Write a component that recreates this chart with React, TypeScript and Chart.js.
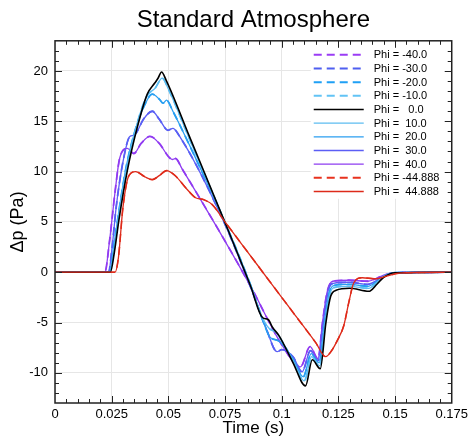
import React, { useEffect, useRef } from 'react';
import { Chart, registerables } from 'chart.js';

Chart.register(...registerables);

const TITLE = 'Standard Atmosphere';
const X_TITLE = 'Time (s)';
const Y_TITLE = 'Δp (Pa)';

const X_TICKS = [0, 0.025, 0.05, 0.075, 0.1, 0.125, 0.15, 0.175];
const X_TICK_LABELS = ['0', '0.025', '0.05', '0.075', '0.1', '0.125', '0.15', '0.175'];
const Y_TICKS = [-10, -5, 0, 5, 10, 15, 20];

const LABELS = [
  'Phi = -40.0',
  'Phi = -30.0',
  'Phi = -20.0',
  'Phi = -10.0',
  'Phi =   0.0',
  'Phi =  10.0',
  'Phi =  20.0',
  'Phi =  30.0',
  'Phi =  40.0',
  'Phi = -44.888',
  'Phi =  44.888',
];

// Phi = 0
const T_PHI0 = [0, 0.0244, 0.0262, 0.0282, 0.0319, 0.0363, 0.0407, 0.044, 0.0455, 0.047, 0.049, 0.0591, 0.0745, 0.0863, 0.0915, 0.094, 0.096, 0.0988, 0.105, 0.1105, 0.1135, 0.117, 0.1195, 0.1216, 0.124, 0.13, 0.1384, 0.142, 0.145, 0.15, 0.175];
const P_PHI0 = [0, 0, 2.0, 5.2, 10.1, 14.4, 17.7, 18.8, 19.3, 19.9, 19.1, 13.6, 5.2, -1.4, -4.5, -4.7, -5.5, -6.3, -9.0, -11.3, -8.7, -9.6, -5.0, -2.4, -1.8, -1.6, -1.9, -1.2, -0.5, -0.05, 0];

// Phi = ±10
const T_PHI10 = [0, 0.0242, 0.026, 0.028, 0.0315, 0.036, 0.0405, 0.0442, 0.0473, 0.05, 0.059, 0.0745, 0.0863, 0.092, 0.0945, 0.0975, 0.105, 0.11, 0.1132, 0.1168, 0.1192, 0.1212, 0.1235, 0.13, 0.1384, 0.142, 0.145, 0.15, 0.175];
const P_PHI10 = [0, 0, 2.2, 5.5, 10.3, 14.6, 17.5, 18.3, 19.3, 18.2, 13.4, 5.2, -1.3, -4.8, -5.6, -6.0, -8.8, -10.8, -8.4, -9.3, -5.0, -2.2, -1.5, -1.4, -1.6, -1.0, -0.4, -0.05, 0];

// Phi = ±20
const T_PHI20 = [0, 0.024, 0.0258, 0.028, 0.0315, 0.0355, 0.0395, 0.0429, 0.046, 0.0477, 0.0492, 0.052, 0.06, 0.0745, 0.0863, 0.092, 0.095, 0.0985, 0.105, 0.1095, 0.113, 0.1165, 0.119, 0.121, 0.1232, 0.13, 0.138, 0.142, 0.145, 0.15, 0.175];
const P_PHI20 = [0, 0, 2.4, 5.8, 10.6, 14.2, 16.6, 17.7, 17.2, 16.8, 17.1, 16.0, 12.3, 5.2, -1.3, -5.0, -6.5, -6.8, -8.6, -10.4, -8.1, -9.0, -4.8, -2.0, -1.3, -1.2, -1.4, -0.9, -0.4, -0.05, 0];

// Phi = ±30
const T_PHI30 = [0, 0.0236, 0.0252, 0.027, 0.03, 0.033, 0.0345, 0.036, 0.039, 0.0429, 0.046, 0.0498, 0.052, 0.0547, 0.0745, 0.0863, 0.093, 0.098, 0.1, 0.105, 0.109, 0.1127, 0.116, 0.1185, 0.1205, 0.1228, 0.13, 0.138, 0.142, 0.145, 0.15, 0.175];
const P_PHI30 = [0, 0, 2.5, 6.5, 11.0, 13.5, 13.6, 13.9, 15.2, 16.0, 15.2, 14.1, 14.3, 13.6, 5.0, -1.5, -5.5, -7.9, -7.7, -8.4, -9.9, -7.8, -8.8, -4.6, -1.8, -1.1, -1.0, -1.2, -0.8, -0.4, -0.05, 0];

// Phi = ±40
const T_PHI40 = [0, 0.022, 0.024, 0.0265, 0.0285, 0.0319, 0.0348, 0.038, 0.0419, 0.046, 0.05, 0.0517, 0.0532, 0.056, 0.087, 0.095, 0.1, 0.1083, 0.1125, 0.116, 0.118, 0.12, 0.1225, 0.13, 0.138, 0.142, 0.145, 0.15, 0.175];
const P_PHI40 = [0, 0, 3.0, 8.0, 11.3, 12.3, 11.8, 12.8, 13.5, 12.8, 11.5, 11.2, 11.3, 10.3, -1.7, -5.2, -7.2, -9.4, -7.4, -8.6, -5.0, -2.0, -0.9, -0.8, -0.9, -0.6, -0.3, -0.05, 0];

// Phi = ±44.888
const T_PHI44 = [0, 0.0265, 0.028, 0.03, 0.0326, 0.0356, 0.0395, 0.0429, 0.046, 0.0492, 0.053, 0.058, 0.062, 0.0657, 0.0694, 0.075, 0.085, 0.095, 0.105, 0.115, 0.1194, 0.122, 0.1245, 0.1274, 0.1296, 0.1318, 0.1355, 0.1414, 0.146, 0.1517, 0.175];
const P_PHI44 = [0, 0, 1.5, 6.5, 9.6, 10.0, 9.5, 9.2, 9.6, 10.1, 9.6, 8.3, 7.4, 7.2, 6.7, 5.0, 2.0, -1.0, -4.0, -7.0, -8.4, -7.8, -6.8, -5.3, -3.0, -1.05, -0.55, -0.65, -0.4, -0.1, 0];

const pts = (t: number[], p: number[]) => t.map((x, i) => ({ x, y: p[i] }));

const FONT = '"Liberation Sans", Arial, Helvetica, sans-serif';

const frameAndLegend = {
  id: 'frameAndLegend',
  afterDatasetsDraw(chart: any) {
    const { ctx, chartArea, scales } = chart;
    const { left, right, top, bottom } = chartArea;
    const xs = scales.x;
    const ys = scales.y;
    ctx.save();

    // legend box
    const lx = right - 141;
    ctx.fillStyle = '#ffffff';
    ctx.fillRect(lx, top + 1, right - lx - 1, 157);
    const ly0 = top + 14;
    const dy = 13.67;
    ctx.font = `11px ${FONT}`;
    ctx.textBaseline = 'middle';
    ctx.textAlign = 'left';
    chart.data.datasets.forEach((ds: any, i: number) => {
      const yy = ly0 + i * dy;
      ctx.beginPath();
      ctx.strokeStyle = ds.borderColor;
      ctx.lineWidth = ds.borderDash && ds.borderDash.length ? 2 : ds.borderWidth;
      ctx.setLineDash(ds.borderDash || []);
      ctx.moveTo(lx + 3, yy);
      ctx.lineTo(lx + 53, yy);
      ctx.stroke();
      ctx.setLineDash([]);
      ctx.fillStyle = '#000';
      ctx.fillText(ds.label, lx + 63, yy + 0.5);
    });

    // ticks on all four sides
    ctx.strokeStyle = '#222';
    ctx.lineWidth = 1;
    ctx.beginPath();
    for (let i = 1; i < 35; i++) {
      const px = Math.round(xs.getPixelForValue(i * 0.005)) + 0.5;
      const len = i % 5 === 0 ? 7 : 4;
      ctx.moveTo(px, bottom);
      ctx.lineTo(px, bottom - len);
      ctx.moveTo(px, top);
      ctx.lineTo(px, top + len);
    }
    for (let v = -12; v <= 22; v++) {
      const py = Math.round(ys.getPixelForValue(v)) + 0.5;
      const len = v % 5 === 0 ? 7 : 4;
      ctx.moveTo(left, py);
      ctx.lineTo(left + len, py);
      ctx.moveTo(right, py);
      ctx.lineTo(right - len, py);
    }
    ctx.stroke();

    ctx.lineWidth = 1.5;
    ctx.strokeRect(left, top, right - left, bottom - top);
    ctx.restore();
  },
};

export default function App() {
  const ref = useRef<HTMLCanvasElement | null>(null);

  useEffect(() => {
    if (!ref.current) return;
    const mk = (i: number, t: number[], p: number[], color: string, width: number, dashed: boolean, order: number) => ({
      label: LABELS[i],
      data: pts(t, p),
      borderColor: color,
      backgroundColor: color,
      borderWidth: width,
      borderDash: dashed ? [8, 5] : [],
      pointRadius: 0,
      fill: false,
      cubicInterpolationMode: 'monotone' as const,
      order,
    });
    const datasets = [
      mk(0, T_PHI40, P_PHI40, '#9b3cf5', 1.8, true, 10),
      mk(1, T_PHI30, P_PHI30, '#4f5ff0', 1.8, true, 9),
      mk(2, T_PHI20, P_PHI20, '#1fa0f5', 1.8, true, 8),
      mk(3, T_PHI10, P_PHI10, '#62c3f5', 1.8, true, 7),
      mk(4, T_PHI0, P_PHI0, '#000000', 1.6, false, 1),
      mk(5, T_PHI10, P_PHI10, '#5cbcf0', 1.3, false, 2),
      mk(6, T_PHI20, P_PHI20, '#2a9ef0', 1.3, false, 3),
      mk(7, T_PHI30, P_PHI30, '#5b5ef5', 1.3, false, 4),
      mk(8, T_PHI40, P_PHI40, '#8e3cf0', 1.3, false, 5),
      mk(9, T_PHI44, P_PHI44, '#e8321e', 1.6, true, 6),
      mk(10, T_PHI44, P_PHI44, '#dd2a1a', 1.3, false, 0),
    ];

    const chart = new Chart(ref.current, {
      type: 'line',
      data: { datasets },
      options: {
        animation: false,
        responsive: false,
        maintainAspectRatio: false,
        layout: { padding: { left: 0, right: 19, top: 0, bottom: 0 } },
        plugins: {
          legend: { display: false },
          tooltip: { enabled: false },
          title: {
            display: true,
            text: TITLE,
            fullSize: false,
            color: '#000',
            font: { family: FONT, size: 24, weight: 'normal' },
            padding: { top: 6, bottom: 6 },
          },
        },
        scales: {
          x: {
            type: 'linear',
            min: 0,
            max: 0.175,
            afterBuildTicks: (s: any) => {
              s.ticks = X_TICKS.map((v) => ({ value: v }));
            },
            afterFit: (s: any) => {
              s.height = 36;
            },
            ticks: {
              callback: (_v: any, i: number) => X_TICK_LABELS[i],
              color: '#000',
              font: { family: FONT, size: 13 },
              padding: 4,
              maxRotation: 0,
              autoSkip: false,
            },
            grid: { color: '#e6e6e6', drawTicks: false, lineWidth: 1 },
            border: { display: false },
            title: {
              display: true,
              text: X_TITLE,
              color: '#000',
              font: { family: FONT, size: 17 },
              padding: { top: 0, bottom: 0 },
            },
          },
          y: {
            type: 'linear',
            min: -13,
            max: 23,
            afterBuildTicks: (s: any) => {
              s.ticks = Y_TICKS.map((v) => ({ value: v }));
            },
            afterFit: (s: any) => {
              s.width = 55;
            },
            ticks: {
              callback: (v: any) => String(v),
              color: '#000',
              font: { family: FONT, size: 13 },
              padding: 7,
              autoSkip: false,
            },
            grid: { color: '#e6e6e6', drawTicks: false, lineWidth: 1 },
            border: { display: false },
            title: {
              display: true,
              text: Y_TITLE,
              color: '#000',
              font: { family: FONT, size: 18 },
              padding: { top: 7, bottom: 0 },
            },
          },
        },
      },
      plugins: [frameAndLegend],
    });
    return () => chart.destroy();
  }, []);

  return (
    <div style={{ position: 'fixed', left: 0, top: 0, width: 472, height: 439, background: '#fff' }}>
      <canvas ref={ref} width={472} height={439} style={{ width: 472, height: 439 }} />
    </div>
  );
}
